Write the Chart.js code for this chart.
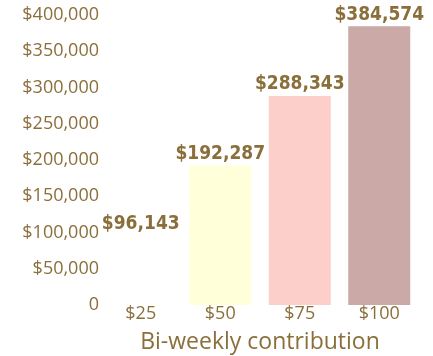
<!DOCTYPE html>
<html>
<head>
<meta charset="utf-8">
<script src="https://cdn.jsdelivr.net/npm/chart.js@4"></script>
<style>
  html,body{margin:0;padding:0;background:#fff;}
  #wrap{width:433px;height:356px;}
</style>
</head>
<body>
<div id="wrap"><canvas id="savingsChart" width="433" height="356"></canvas></div>
<script>
// ===== Data =====
const contributions = ["$25", "$50", "$75", "$100"];
const totals = [96143, 192287, 288343, 384574];
const barColors = ["#FFFFFF", "#FFFFDA", "#FDCFCB", "#CBA9A7"];
const yTicks = [0, 50000, 100000, 150000, 200000, 250000, 300000, 350000, 400000];

const brown = "#8B6F3B";

function money(v){
  return "$" + v.toLocaleString("en-US");
}

// ===== Value labels above bars =====
const valueLabels = {
  id: "valueLabels",
  afterDatasetsDraw(chart){
    const ctx = chart.ctx;
    const meta = chart.getDatasetMeta(0);
    ctx.save();
    ctx.fillStyle = brown;
    ctx.font = "bold 19px 'DejaVu Sans Condensed', sans-serif";
    ctx.textAlign = "center";
    ctx.textBaseline = "bottom";
    meta.data.forEach((bar, i)=>{
      ctx.fillText(money(totals[i]), bar.x, bar.y - 2);
    });
    ctx.restore();
  }
};

// ===== Chart =====
const ctx = document.getElementById("savingsChart").getContext("2d");
new Chart(ctx,{
  type:'bar',
  data:{
    labels:contributions,
    datasets:[{
      data:totals,
      backgroundColor:barColors,
      borderWidth:0,
      barPercentage:0.78,
      categoryPercentage:1
    }]
  },
  options:{
    responsive:false,
    animation:false,
    layout:{padding:{top:15, right:14, left:0, bottom:0}},
    plugins:{legend:{display:false}, tooltip:{enabled:false}},
    scales:{
      y:{
        min:0, max:400000,
        afterBuildTicks:(axis)=>{ axis.ticks = yTicks.map(v=>({value:v})); },
        afterFit:(axis)=>{ axis.width = 101; },
        grid:{display:false, drawTicks:false},
        border:{display:false},
        ticks:{
          color:brown,
          padding:2,
          font:{family:"'Open Sans', sans-serif", size:18},
          callback:(v)=> v === 0 ? "0" : money(v)
        }
      },
      x:{
        afterFit:(axis)=>{ axis.height = 51; },
        grid:{display:false, drawTicks:false},
        border:{display:false},
        ticks:{
          color:brown,
          padding:-2,
          font:{family:"'Open Sans', sans-serif", size:18}
        },
        title:{
          display:true,
          text:"Bi-weekly contribution",
          color:brown,
          padding:{top:0, bottom:0},
          font:{family:"'Open Sans', sans-serif", size:23}
        }
      }
    }
  },
  plugins:[valueLabels]
});
</script>
</body>
</html>
